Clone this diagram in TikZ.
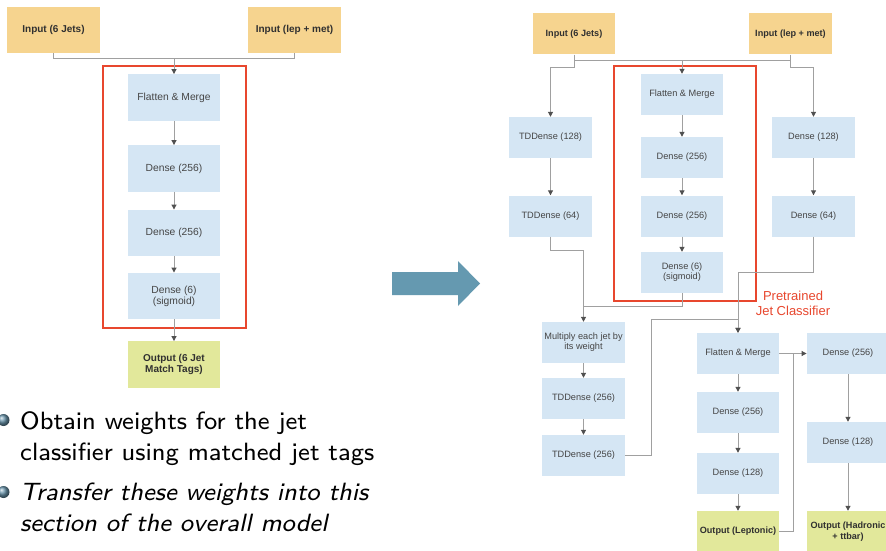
\documentclass[tikz,border=0pt]{standalone}
\usepackage{fontspec}
\newfontfamily\arial{Liberation Sans}
\newfontfamily\bulfont[ItalicFont=lmsans8-oblique.otf]{lmsans8-regular.otf}
\usetikzlibrary{arrows.meta}
\definecolor{boxblue}{HTML}{D5E6F4}
\definecolor{boxorange}{HTML}{F6D48F}
\definecolor{boxgreen}{HTML}{E2E89B}
\definecolor{linegrey}{HTML}{A0A0A0}
\definecolor{tipgrey}{HTML}{505050}
\definecolor{txtgrey}{HTML}{454545}
\definecolor{txtdark}{HTML}{303030}
\definecolor{redbox}{HTML}{E8472E}
\definecolor{bigarrow}{HTML}{6599B0}
\definecolor{ballc}{HTML}{6A95AC}
\tikzset{
  lyr/.style={fill=boxblue, inner sep=0pt, align=center, text=txtgrey},
  lbox/.style={lyr, minimum width=92pt, minimum height=46.5pt, font=\arial\fontsize{10.3}{11}\selectfont},
  rbox/.style={lyr, minimum width=82.5pt, minimum height=41pt, font=\arial\fontsize{9.2}{10}\selectfont},
  inbox/.style={fill=boxorange, text=txtdark, font=\arial\bfseries\fontsize{#1}{11}\selectfont},
  outbox/.style={fill=boxgreen, text=txtdark, font=\arial\bfseries\fontsize{#1}{11}\selectfont},
  conn/.style={draw=linegrey, line width=1pt},
  arr/.style={conn, -{Triangle[width=5pt,length=5pt,color=tipgrey]}},
  redframe/.style={draw=redbox, line width=2pt},
  bul/.style={anchor=base west, inner sep=0pt, font=\bulfont\fontsize{25}{30}\selectfont}
}
\begin{document}
\begin{tikzpicture}[x=1pt,y=-1pt]
\useasboundingbox[fill=white] (0,0) rectangle (886,551);

% ---------- left diagram ----------
\node[lbox, inbox=10, minimum width=93pt] (in1L) at (53.5,30) {Input (6 Jets)};
\node[lbox, inbox=10, minimum width=93pt] (in2L) at (294.5,30) {Input (lep + met)};
\node[lbox] (fmL) at (174,97.5) {Flatten \& Merge};
\node[lbox] (d1L) at (174,168.5) {Dense (256)};
\node[lbox] (d2L) at (174,233) {Dense (256)};
\node[lbox] (d3L) at (174,296) {Dense (6)\\(sigmoid)};
\node[lbox, outbox=10] (outL) at (174,364.5) {Output (6 Jet\\Match Tags)};
\draw[redframe] (103,66) rectangle (246,328);
\coordinate (jL) at (174,59);
\draw[conn] (in1L.south) |- (jL);
\draw[conn] (in2L.south) |- (jL);
\draw[arr] (jL) -- (fmL.north);
\draw[arr] (fmL) -- (d1L);
\draw[arr] (d1L) -- (d2L);
\draw[arr] (d2L) -- (d3L);
\draw[arr] (d3L) -- (outL);

% ---------- bullets ----------
\shade[ball color=ballc] (3.5,420) circle (6pt);
\shade[ball color=ballc] (3.5,492) circle (6pt);
\node[bul] (b1) at (20,429) {Obtain weights for the jet};
\node[bul] (b2) at (20,460) {classifier using matched jet tags};
\node[bul] (b3) at (20,500) {\itshape Transfer these weights into this};
\node[bul] (b4) at (20,531) {\itshape section of the overall model};

% ---------- big arrow ----------
\fill[bigarrow] (392,272) -- (458,272) -- (458,261) -- (480,283.5) -- (458,306) -- (458,295) -- (392,295) -- cycle;

% ---------- right diagram ----------
\node[rbox, inbox=9.1] (in1R) at (574,34) {Input (6 Jets)};
\node[rbox, inbox=9.1] (in2R) at (790.5,34) {Input (lep + met)};
\node[rbox] (tdd128) at (550.5,137.5) {TDDense (128)};
\node[rbox] (tdd64) at (550.5,216) {TDDense (64)};
\node[rbox] (fmR) at (682,94.5) {Flatten \& Merge};
\node[rbox] (dR1) at (682,157.5) {Dense (256)};
\node[rbox] (dR2) at (682,216) {Dense (256)};
\node[rbox] (dR3) at (682,272.5) {Dense (6)\\(sigmoid)};
\node[rbox] (dr128) at (813.5,137.5) {Dense (128)};
\node[rbox] (dr64) at (813.5,216) {Dense (64)};
\node[rbox] (mult) at (583.5,342.5) {Multiply each jet by\\its weight};
\node[rbox] (tdd256a) at (583.5,398.5) {TDDense (256)};
\node[rbox] (tdd256b) at (583.5,455.5) {TDDense (256)};
\node[rbox] (fm2) at (738,353.5) {Flatten \& Merge};
\node[rbox] (dl256) at (738,412.5) {Dense (256)};
\node[rbox] (dl128) at (738,473.5) {Dense (128)};
\node[rbox, outbox=9.1] (outLep) at (738,531.5) {Output (Leptonic)};
\node[rbox] (dh256) at (848,353.5) {Dense (256)};
\node[rbox] (dh128) at (848,442.5) {Dense (128)};
\node[rbox, outbox=9.1] (outHad) at (848,531.5) {Output (Hadronic\\+ ttbar)};

\draw[redframe] (614,66) rectangle (756,301);
\node[text=redbox, font=\arial\fontsize{13}{15}\selectfont, align=center, inner sep=0pt] (pre) at (793,303.5) {Pretrained\\Jet Classifier};

\draw[conn] (in1R.south |- 0,61) -- (in2R.south |- 0,61);
\draw[arr] (in1R.south) |- (tdd128.north |- 0,68) -- (tdd128.north);
\draw[arr] (in2R.south) |- (dr128.north |- 0,68) -- (dr128.north);
\draw[arr] (fmR.north |- 0,61) -- (fmR.north);
\draw[arr] (tdd128) -- (tdd64);
\draw[arr] (fmR) -- (dR1);
\draw[arr] (dR1) -- (dR2);
\draw[arr] (dR2) -- (dR3);
\draw[arr] (dr128) -- (dr64);
\draw[arr] (tdd64.south) |- (mult.north |- 0,250) -- (mult.north);
\draw[conn] (dR3.south) |- (mult.north |- 0,306);
\draw[arr] (mult) -- (tdd256a);
\draw[arr] (tdd256a) -- (tdd256b);
\coordinate (bendA) at (651,319);
\draw[arr] (tdd256b.east) -| (bendA) -| (fm2.north);
\draw[arr] (dr64.south) |- (fm2.north |- 0,272) -- (fm2.north);
\draw[arr] (fm2) -- (dl256);
\draw[arr] (dl256) -- (dl128);
\draw[arr] (dl128) -- (outLep);
\draw[arr] (fm2.east) -- (dh256.west);
\coordinate (jH) at (793,353.5);
\draw[conn] (outLep.east) -| (jH);
\draw[arr] (dh256) -- (dh128);
\draw[arr] (dh128) -- (outHad);
\end{tikzpicture}
\end{document}
